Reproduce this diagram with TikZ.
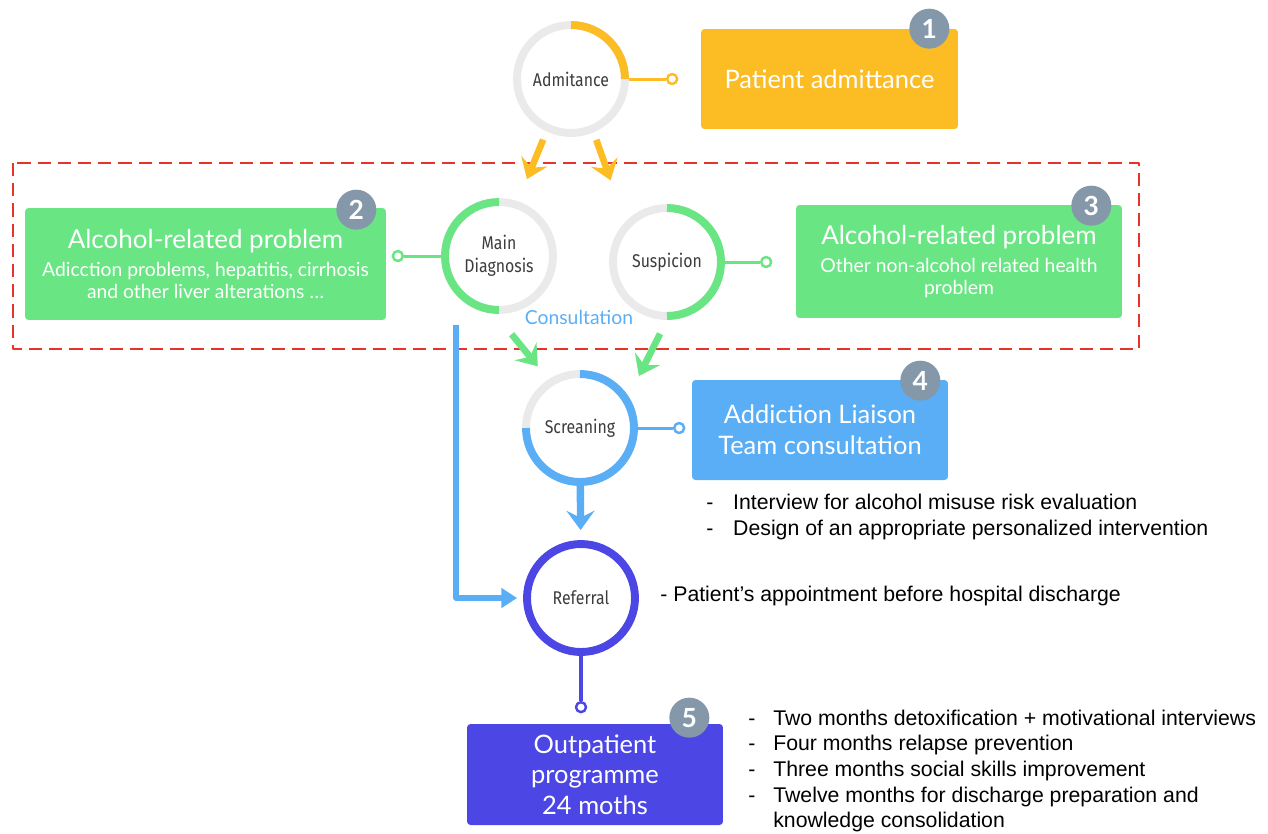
\documentclass[tikz,border=0pt]{standalone}
\usepackage{fontspec}
\setmainfont{Liberation Sans}
\newfontfamily\boxfont{Lato}
\newfontfamily\ringfont[FakeStretch=0.86]{Fira Sans}
\usetikzlibrary{%
  arrows.meta,% fat arrow tips
  calc,%
  positioning% wg. " of "
}
\definecolor{admitorange}{RGB}{251,188,36}
\definecolor{probgreen}{RGB}{106,229,132}
\definecolor{liaisonblue}{RGB}{90,174,245}
\definecolor{outpurple}{RGB}{75,70,228}
\definecolor{badgegrey}{RGB}{133,152,170}
\definecolor{ringgrey}{RGB}{234,234,234}
\definecolor{framered}{RGB}{232,51,42}
\definecolor{ringtext}{RGB}{60,60,60}

\begin{document}
\begin{tikzpicture}[
    x=0.02cm,y=0.02cm,
    line join=round,
    ring/.style={circle,draw=ringgrey,line width=4.5pt,minimum size=2.16cm,inner sep=0pt,
        font=\ringfont\fontsize{10.5}{13}\selectfont,text=ringtext,align=center},
    arcpart/.style={line width=4.5pt},
    infobox/.style={rectangle,rounded corners=2pt,text=white,align=center,inner sep=2pt,
        font=\boxfont\fontsize{14.5}{17.5}\selectfont},
    badge/.style={circle,fill=badgegrey,text=white,minimum size=0.8cm,inner sep=0pt,
        font=\boxfont\bfseries\fontsize{15}{15}\selectfont},
    dot/.style={circle,draw,fill=white,line width=1.4pt,minimum size=0.2cm,inner sep=0pt},
    stub/.style={line width=1.7pt},
    fatarrow/.style={line width=3.8pt,-{Stealth[length=11pt,width=16pt,inset=4pt]}},
    elbow/.style={line width=3pt,-{Triangle[length=9pt,width=11pt]}},
    notes/.style={inner sep=0pt,font=\fontsize{12.1}{14.9}\selectfont,text=black},
    groupframe/.style={draw=framered,line width=1.1pt,dash pattern=on 7.5pt off 4pt}
  ]
    \useasboundingbox (0,0) rectangle (1268,-833);

    % circles
    \node[ring] (admit)    at (571,-79)  {Admitance};
    \node[ring] (maindiag) at (499,-256) {Main\\Diagnosis};
    \node[ring] (suspic)   at (667,-262) {Suspicion};
    \node[ring] (screan)   at (580,-428) {Screaning};
    \node[ring,draw=outpurple] (referral) at (581,-598) {Referral};

    \draw[arcpart,admitorange] ([shift={(90:1.08cm)}]admit.center)
        arc[start angle=90,end angle=0,radius=1.08cm];
    \draw[arcpart,probgreen] ([shift={(90:1.08cm)}]maindiag.center)
        arc[start angle=90,end angle=270,radius=1.08cm];
    \draw[arcpart,probgreen] ([shift={(90:1.08cm)}]suspic.center)
        arc[start angle=90,end angle=-90,radius=1.08cm];
    \draw[arcpart,liaisonblue] ([shift={(180:1.08cm)}]screan.center)
        arc[start angle=180,end angle=450,radius=1.08cm];

    % boxes
    \node[infobox,fill=admitorange,minimum width=5.14cm,minimum height=2cm]
        (patbox) at (829.5,-79) {Patient admittance};
    \node[infobox,fill=probgreen,minimum width=7.22cm,minimum height=2.24cm]
        (alcleft) at (205.5,-264) {{\fontsize{14.8}{16}\selectfont Alcohol-related problem}\\[-2pt]
        {\fontsize{11}{12.5}\selectfont Adicction problems, hepatitis, cirrhosis}\\[-5pt]
        {\fontsize{11}{12.5}\selectfont and other liver alterations \dots}};
    \node[infobox,fill=probgreen,minimum width=6.52cm,minimum height=2.26cm]
        (alcright) at (959,-261.5) {{\fontsize{14.8}{16}\selectfont Alcohol-related problem}\\[-2pt]
        {\fontsize{11}{12.5}\selectfont Other non-alcohol related health}\\[-5pt]
        {\fontsize{11}{12.5}\selectfont problem}};
    \node[infobox,fill=liaisonblue,minimum width=5.12cm,minimum height=2cm]
        (liaison) at (820,-430) {Addiction Liaison\\Team consultation};
    \node[infobox,fill=outpurple,minimum width=5.12cm,minimum height=2.02cm]
        (outpat) at (595,-774.5) {Outpatient\\programme\\24 moths};

    \node[badge] (b1) at ([xshift=-0.58cm]patbox.north east) {1};
    \node[badge] (b2) at ([xshift=-0.6cm,yshift=-0.04cm]alcleft.north east) {2};
    \node[badge] (b3) at ([xshift=-0.62cm,yshift=-0.02cm]alcright.north east) {3};
    \node[badge] (b4) at ([xshift=-0.56cm,yshift=-0.02cm]liaison.north east) {4};
    \node[badge] (b5) at ([xshift=-0.68cm,yshift=0.12cm]outpat.north east) {5};

    % dots
    \node[dot,draw=admitorange,right=0.74cm of admit]   (admitdot) {};
    \node[dot,draw=probgreen,left=0.74cm of maindiag]   (mddot) {};
    \node[dot,draw=probgreen,right=0.7cm of suspic]     (suspdot) {};
    \node[dot,draw=liaisonblue,right=0.7cm of screan]   (screandot) {};
    \node[dot,draw=outpurple,below=0.9cm of referral]   (refdot) {};

    \draw[stub,admitorange] (admit) -- (admitdot);
    \draw[stub,probgreen] (maindiag) -- (mddot);
    \draw[stub,probgreen] (suspic) -- (suspdot);
    \draw[stub,liaisonblue] (screan) -- (screandot);
    \draw[stub,outpurple,line width=2.2pt] (referral) -- (refdot);

    \node[text=liaisonblue,font=\boxfont\fontsize{11}{12}\selectfont]
        (consult) at (579,-317) {Consultation};

    \draw[groupframe] (13,-163) rectangle (1139,-349);

    % arrows
    \draw[fatarrow,admitorange,shorten <=5pt,shorten >=13.6pt] (admit.-115) -- (maindiag.71.5);
    \draw[fatarrow,admitorange,shorten <=4.5pt,shorten >=25pt] (admit.-67) -- (suspic.136);
    \draw[fatarrow,probgreen,shorten <=15pt,shorten >=9.6pt] (maindiag.-94) -- (screan.123);
    \draw[fatarrow,probgreen,shorten <=8.8pt,shorten >=13pt] (suspic.south) -- (screan.33);
    \draw[fatarrow,liaisonblue,line width=4.2pt,shorten >=5.7pt] (screan) -- (referral);

    \coordinate (mdfoot) at (456,-325);
    \draw[elbow,liaisonblue,shorten >=3.4pt] (mdfoot) |- (referral);

    % notes
    \node[notes,anchor=north west] (screennotes) at (706,-491) {%
      \begin{tabular}{@{}p{15.3pt}@{}l@{}}
        - & Interview for alcohol misuse risk evaluation\\
        - & Design of an appropriate personalized intervention
      \end{tabular}};
    \node[notes,anchor=base west] (refnote) at (660,-601)
        {- Patient’s appointment before hospital discharge};
    \node[notes,anchor=north west,font=\fontsize{12.1}{14.6}\selectfont] (outnotes) at (748,-707) {%
      \begin{tabular}{@{}p{14.2pt}@{}l@{}}
        - & Two months detoxification + motivational interviews\\
        - & Four months relapse prevention\\
        - & Three months social skills improvement\\
        - & Twelve months for discharge preparation and\\
          & knowledge consolidation
      \end{tabular}};
\end{tikzpicture}
\end{document}
